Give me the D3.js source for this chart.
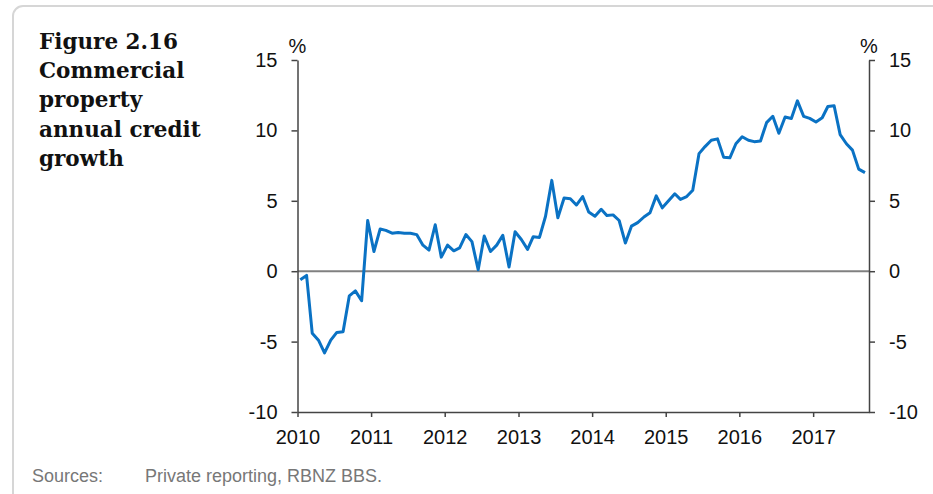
<!DOCTYPE html>
<html lang="en">
<head>
  <meta charset="UTF-8" />
  <title>Figure 2.16 Commercial property annual credit growth</title>
  <style>
    body {
      margin: 0;
      background: #fff;
    }
    svg {
      display: block;
    }
    .axis text {
      font-family: "Liberation Sans", Arial, sans-serif;
      font-size: 20px;
      fill: #111;
    }
    .axis path, .axis line {
      stroke: #444;
      stroke-width: 1.5px;
    }
    .title {
      font-family: "DejaVu Serif", serif;
      font-weight: bold;
      font-size: 21.5px;
      fill: #111;
    }
    .unit {
      font-family: "Liberation Sans", Arial, sans-serif;
      font-size: 20px;
      fill: #111;
    }
    .source {
      font-family: "Liberation Sans", Arial, sans-serif;
      font-size: 18px;
      fill: #777;
    }
  </style>
</head>
<body>
  <svg width="933" height="494"></svg>

  <script src="https://d3js.org/d3.v7.min.js"></script>
  <script>
    // monthly annual growth (%), Jan 2010 onwards
    const startYear = 2010;
    const growth = [
      -0.6, -0.3, -4.4, -4.9, -5.8, -4.9, -4.35, -4.3, -1.75, -1.4, -2.1, 3.6,
      1.4, 3.0, 2.9, 2.7, 2.75, 2.7, 2.7, 2.6, 1.85, 1.5, 3.3, 1.0,
      1.85, 1.45, 1.65, 2.6, 2.1, 0.1, 2.5, 1.4, 1.85, 2.55, 0.3, 2.8,
      2.25, 1.55, 2.45, 2.4, 3.9, 6.45, 3.8, 5.2, 5.15, 4.7, 5.3, 4.2,
      3.9, 4.4, 3.95, 4.0, 3.6, 2.0, 3.2, 3.45, 3.85, 4.15, 5.35, 4.5,
      5.0, 5.5, 5.1, 5.3, 5.75, 8.35, 8.85, 9.3, 9.4, 8.1, 8.05, 9.05,
      9.55, 9.3, 9.2, 9.25, 10.55, 11.0, 9.8, 10.95, 10.85, 12.1, 11.0, 10.85,
      10.6, 10.9, 11.7, 11.75, 9.7, 9.05, 8.6, 7.25, 7.0
    ];
    const yTicks = [-10, -5, 0, 5, 10, 15];
    const xYears = [2010, 2011, 2012, 2013, 2014, 2015, 2016, 2017];
    const titleLines = ["Figure 2.16", "Commercial", "property", "annual credit", "growth"];
    const sourceLabel = "Sources:";
    const sourceText = "Private reporting, RBNZ BBS.";

    const data = growth.map((v, i) => ({ date: new Date(startYear, i, 15), value: v }));

    const svg = d3.select("svg");
    const plotLeft = 297.5, plotRight = 869, plotTop = 60, plotBottom = 412;

    const x = d3.scaleTime()
      .domain([new Date(2010, 0, 1), new Date(2017, 9, 5)])
      .range([plotLeft, plotRight]);

    const y = d3.scaleLinear()
      .domain([-10, 15])
      .range([plotBottom, plotTop]);

    // plain hyphen for negatives, like the original
    const yFormat = d => String(d);

    // panel frame
    svg.append("rect")
      .attr("x", 13).attr("y", 6)
      .attr("width", 1000).attr("height", 600)
      .attr("rx", 10)
      .attr("fill", "none")
      .attr("stroke", "#d6d6d6")
      .attr("stroke-width", 2);

    // title
    svg.append("text")
      .attr("class", "title")
      .selectAll("tspan")
      .data(titleLines)
      .join("tspan")
      .attr("x", 39)
      .attr("y", (d, i) => 49 + i * 29.2)
      .text(d => d);

    // zero line
    svg.append("line")
      .attr("x1", plotLeft).attr("x2", plotRight)
      .attr("y1", y(0)).attr("y2", y(0))
      .attr("stroke", "#808080")
      .attr("stroke-width", 2);

    svg.append("g")
      .attr("class", "axis")
      .attr("transform", `translate(${plotLeft},0)`)
      .call(d3.axisLeft(y).tickValues(yTicks).tickFormat(yFormat)
        .tickSize(6).tickSizeOuter(0).tickPadding(14));

    svg.append("g")
      .attr("class", "axis")
      .attr("transform", `translate(${plotRight},0)`)
      .call(d3.axisRight(y).tickValues(yTicks).tickFormat(yFormat)
        .tickSize(6).tickSizeOuter(0).tickPadding(14));

    svg.append("g")
      .attr("class", "axis")
      .attr("transform", `translate(0,${plotBottom})`)
      .call(d3.axisBottom(x)
        .tickValues(xYears.map(yr => new Date(yr, 0, 1)))
        .tickFormat(d3.timeFormat("%Y"))
        .tickSize(5).tickSizeOuter(0).tickPadding(13));

    // unit labels
    svg.append("text").attr("class", "unit")
      .attr("x", plotLeft).attr("y", 53).attr("text-anchor", "middle").text("%");
    svg.append("text").attr("class", "unit")
      .attr("x", plotRight).attr("y", 53).attr("text-anchor", "middle").text("%");

    // series
    svg.append("path")
      .datum(data)
      .attr("fill", "none")
      .attr("stroke", "#0a72c4")
      .attr("stroke-width", 3)
      .attr("stroke-linejoin", "round")
      .attr("d", d3.line().x(d => x(d.date)).y(d => y(d.value)));

    // sources
    svg.append("text").attr("class", "source")
      .attr("x", 32).attr("y", 482).text(sourceLabel);
    svg.append("text").attr("class", "source")
      .attr("x", 145).attr("y", 482).text(sourceText);
  </script>
</body>
</html>
